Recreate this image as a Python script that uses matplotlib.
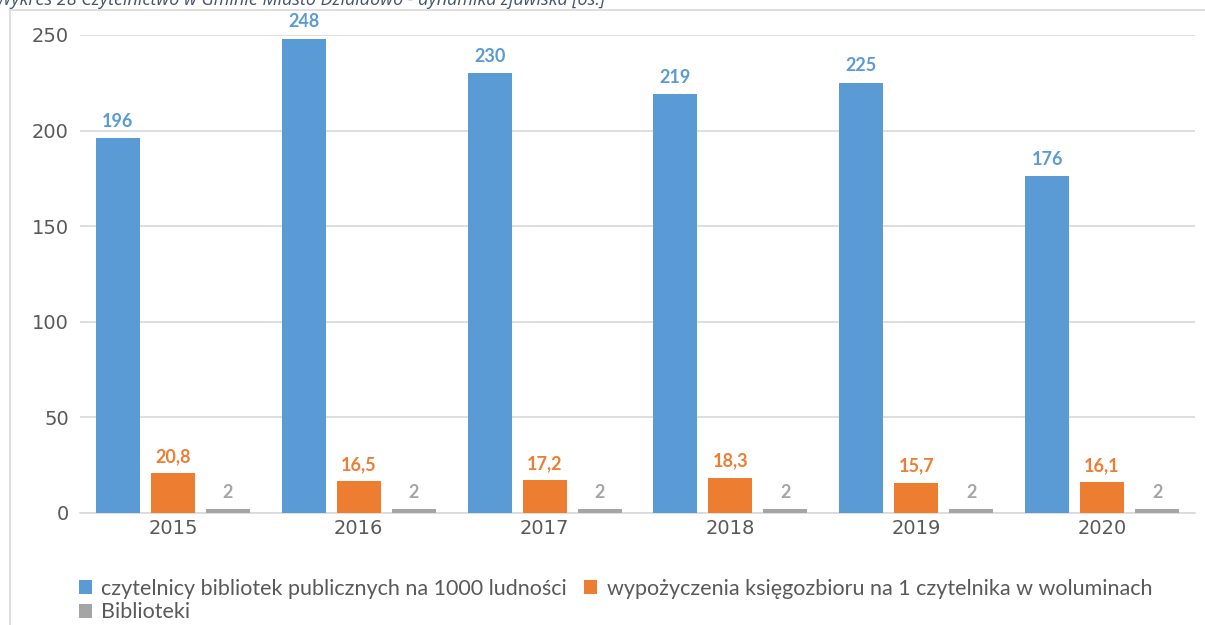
import matplotlib.pyplot as plt
import numpy as np
from matplotlib.lines import Line2D

years = ['2015', '2016', '2017', '2018', '2019', '2020']
czytelnicy = [196, 248, 230, 219, 225, 176]
wypozyczenia = [20.8, 16.5, 17.2, 18.3, 15.7, 16.1]
biblioteki = [2, 2, 2, 2, 2, 2]

names = ['czytelnicy bibliotek publicznych na 1000 ludności',
         'wypożyczenia księgozbioru na 1 czytelnika w woluminach',
         'Biblioteki']
colors = ['#5B9BD5', '#ED7D31', '#A5A5A5']

fig = plt.figure(figsize=(12.05, 6.25), dpi=100)
ax = fig.add_axes([80 / 1205, 1 - 513 / 625, 1115 / 1205, 478 / 625])

x = np.arange(len(years))
w = 0.237
step = 0.296
series = [czytelnicy, wypozyczenia, biblioteki]
bars = []
for i, (vals, c) in enumerate(zip(series, colors)):
    b = ax.bar(x + (i - 1) * step, vals, w, color=c, zorder=3, label=names[i])
    bars.append(b)
    for rect, v in zip(b, vals):
        txt = str(v).replace('.', ',')
        ax.annotate(txt, (rect.get_x() + rect.get_width() / 2, v),
                    xytext=(0, 6), textcoords='offset points',
                    ha='center', va='bottom', color=c, fontsize=13,
                    fontweight='bold', family='Lato')

ax.set_xlim(-0.5, len(years) - 0.5)
ax.set_ylim(0, 250)
ax.set_yticks([0, 50, 100, 150, 200, 250])
ax.set_xticks(x)
ax.set_xticklabels(years)
ax.tick_params(axis='both', length=0, labelsize=14, colors='#595959', pad=8)
ax.tick_params(axis='x', pad=4)
ax.yaxis.grid(True, color='#D9D9D9', lw=1.2, zorder=0)
for s in ['top', 'right', 'left']:
    ax.spines[s].set_visible(False)
ax.spines['bottom'].set_color('#D9D9D9')
ax.spines['bottom'].set_linewidth(1.2)

# chart area border (top and left)
fig.add_artist(Line2D([10 / 1205, 1], [1 - 10 / 625, 1 - 10 / 625],
                      color='#D9D9D9', lw=1.2, transform=fig.transFigure))
fig.add_artist(Line2D([10 / 1205, 10 / 1205], [0, 1 - 10 / 625],
                      color='#D9D9D9', lw=1.2, transform=fig.transFigure))

fig.text(-4 / 1205, 1 - 5 / 625,
         'Wykres 28 Czytelnictwo w Gminie Miasto Działdowo - dynamika zjawiska [os.]',
         ha='left', va='baseline', fontsize=13, style='italic',
         color='#44546A', family='Open Sans')

# row-wise order: blue, orange in row 1, gray in row 2
order = [0, 2, 1]
leg = fig.legend(handles=[bars[k] for k in order], labels=[names[k] for k in order],
                 ncol=2, loc='upper left',
                 bbox_to_anchor=(70 / 1205, 1 - 570 / 625), frameon=False,
                 prop={'family': 'Lato', 'size': 15.5}, labelcolor='#595959',
                 handlelength=0.6, handleheight=0.6, handletextpad=0.45,
                 columnspacing=0.8, labelspacing=0.18, borderaxespad=0)

fig.savefig('out.png', dpi=100)
